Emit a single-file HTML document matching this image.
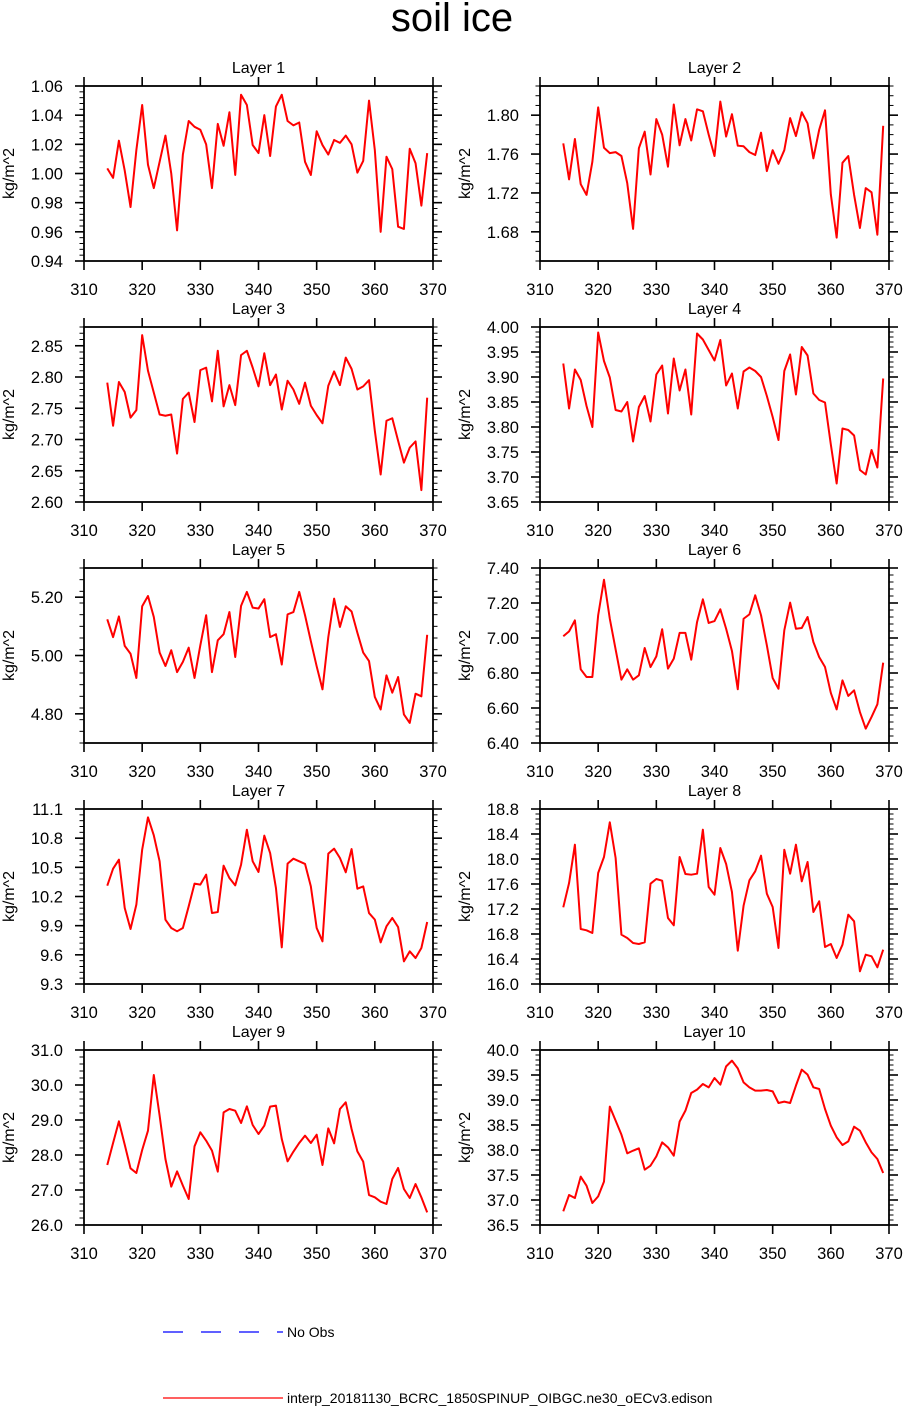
<!DOCTYPE html>
<html>
<head>
<meta charset="utf-8">
<style>
  html, body { margin: 0; padding: 0; background: #fff; }
  body { width: 904px; height: 1406px; overflow: hidden; }
  svg text { font-family: "Liberation Sans", Arial, sans-serif; fill: #000; }
</style>
</head>
<body>
<svg id="chart" width="904" height="1406" viewBox="0 0 904 1406" xmlns="http://www.w3.org/2000/svg">
  <text x="452" y="31" font-size="40" text-anchor="middle">soil ice</text>
  <g id="panels"></g>
  <g>
    <line x1="163" y1="1332" x2="283" y2="1332" stroke="#0000ff" stroke-width="1.3" stroke-dasharray="20,18"></line>
    <text x="287" y="1337" font-size="14">No Obs</text>
    <line x1="163" y1="1398" x2="283" y2="1398" stroke="#ff0000" stroke-width="1.3"></line>
    <text x="287" y="1403" font-size="14">interp_20181130_BCRC_1850SPINUP_OIBGC.ne30_oECv3.edison</text>
  </g>
</svg>
<script>
const years = [314,315,316,317,318,319,320,321,322,323,324,325,326,327,328,329,330,331,332,333,334,335,336,337,338,339,340,341,342,343,344,345,346,347,348,349,350,351,352,353,354,355,356,357,358,359,360,361,362,363,364,365,366,367,368,369];
const xTicks = [310,320,330,340,350,360,370];
const layerNames = ["Layer 1","Layer 2","Layer 3","Layer 4","Layer 5","Layer 6","Layer 7","Layer 8","Layer 9","Layer 10"];

const layer1 = [1.0035,0.997,1.0225,1.002,0.977,1.016,1.047,1.006,0.990,1.008,1.026,1.000,0.961,1.013,1.036,1.032,1.030,1.020,0.990,1.034,1.019,1.042,0.999,1.054,1.047,1.0195,1.014,1.040,1.012,1.046,1.054,1.036,1.033,1.035,1.008,0.999,1.029,1.0195,1.013,1.023,1.021,1.026,1.020,1.0006,1.0086,1.050,1.016,0.960,1.0115,1.003,0.9635,0.962,1.017,1.007,0.978,1.014];
const layer2 = [1.771,1.734,1.7755,1.729,1.718,1.752,1.808,1.7665,1.761,1.762,1.758,1.730,1.683,1.766,1.783,1.739,1.796,1.780,1.747,1.811,1.769,1.796,1.774,1.806,1.804,1.780,1.758,1.814,1.778,1.801,1.7686,1.768,1.762,1.759,1.782,1.7425,1.764,1.750,1.764,1.797,1.7785,1.803,1.7916,1.7556,1.785,1.805,1.7185,1.674,1.751,1.758,1.718,1.684,1.725,1.7206,1.677,1.789];
const layer3 = [2.791,2.722,2.792,2.776,2.735,2.747,2.867,2.810,2.775,2.740,2.738,2.740,2.6775,2.765,2.775,2.728,2.811,2.815,2.761,2.842,2.753,2.787,2.755,2.835,2.842,2.815,2.785,2.838,2.787,2.804,2.748,2.794,2.780,2.757,2.791,2.754,2.739,2.726,2.786,2.809,2.787,2.831,2.813,2.780,2.785,2.795,2.714,2.644,2.730,2.734,2.698,2.663,2.687,2.697,2.619,2.767];
const layer4 = [3.927,3.837,3.915,3.894,3.842,3.800,3.989,3.932,3.899,3.834,3.831,3.850,3.771,3.840,3.862,3.811,3.905,3.923,3.827,3.937,3.873,3.915,3.825,3.987,3.975,3.954,3.933,3.974,3.883,3.907,3.837,3.911,3.919,3.912,3.900,3.862,3.820,3.774,3.912,3.945,3.865,3.960,3.943,3.867,3.854,3.849,3.765,3.687,3.797,3.794,3.783,3.714,3.705,3.754,3.719,3.897];
const layer5 = [5.124,5.063,5.134,5.033,5.006,4.923,5.169,5.204,5.132,5.010,4.964,5.018,4.943,4.978,5.027,4.923,5.035,5.138,4.943,5.052,5.073,5.149,4.995,5.170,5.218,5.164,5.161,5.193,5.063,5.073,4.969,5.141,5.149,5.218,5.138,5.049,4.963,4.884,5.063,5.195,5.098,5.169,5.151,5.078,5.010,4.981,4.858,4.815,4.932,4.8725,4.926,4.798,4.769,4.869,4.860,5.071];
const layer6 = [7.010,7.038,7.101,6.821,6.777,6.777,7.130,7.333,7.110,6.935,6.762,6.821,6.762,6.787,6.943,6.834,6.895,7.050,6.825,6.882,7.029,7.029,6.876,7.091,7.221,7.086,7.097,7.164,7.053,6.926,6.707,7.110,7.135,7.244,7.130,6.958,6.771,6.710,7.044,7.202,7.053,7.057,7.120,6.977,6.891,6.834,6.686,6.592,6.758,6.669,6.701,6.577,6.482,6.549,6.621,6.859];
const layer7 = [10.311,10.486,10.579,10.082,9.866,10.116,10.682,11.014,10.829,10.562,9.962,9.876,9.842,9.876,10.099,10.332,10.322,10.425,10.030,10.040,10.517,10.390,10.315,10.527,10.887,10.562,10.452,10.826,10.647,10.287,9.677,10.538,10.589,10.562,10.535,10.304,9.876,9.739,10.641,10.692,10.596,10.449,10.688,10.280,10.304,10.030,9.962,9.728,9.893,9.979,9.886,9.533,9.636,9.567,9.670,9.938];
const layer8 = [17.227,17.616,18.229,16.880,16.859,16.816,17.776,18.032,18.587,18.016,16.789,16.736,16.656,16.640,16.667,17.605,17.680,17.653,17.056,16.939,18.032,17.760,17.749,17.765,18.469,17.552,17.429,18.176,17.920,17.472,16.533,17.253,17.659,17.803,18.053,17.445,17.232,16.576,18.149,17.765,18.229,17.643,17.952,17.152,17.323,16.592,16.640,16.416,16.629,17.109,17.003,16.203,16.469,16.443,16.267,16.549];
const layer9 = [27.714,28.343,28.962,28.295,27.619,27.486,28.143,28.695,30.286,29.124,27.886,27.095,27.533,27.124,26.743,28.248,28.648,28.410,28.124,27.524,29.219,29.314,29.267,28.914,29.390,28.857,28.600,28.838,29.381,29.410,28.457,27.819,28.095,28.343,28.552,28.343,28.581,27.714,28.762,28.333,29.314,29.505,28.743,28.105,27.810,26.857,26.790,26.667,26.600,27.314,27.629,27.029,26.771,27.171,26.790,26.362];
const layer10 = [36.773,37.100,37.040,37.467,37.287,36.940,37.073,37.367,38.867,38.587,38.307,37.933,37.987,38.033,37.607,37.687,37.873,38.153,38.053,37.887,38.567,38.787,39.140,39.207,39.320,39.253,39.440,39.307,39.673,39.787,39.633,39.353,39.253,39.187,39.187,39.200,39.173,38.940,38.967,38.940,39.287,39.607,39.507,39.253,39.220,38.820,38.487,38.253,38.100,38.173,38.467,38.387,38.153,37.953,37.820,37.540];

const yMins = [0.94,1.65,2.60,3.65,4.70,6.40,9.3,16.0,26.0,36.5];
const yMaxs = [1.06,1.83,2.88,4.00,5.30,7.40,11.1,18.8,31.0,40.0];
const yTickLabels = [
  ["0.94","0.96","0.98","1.00","1.02","1.04","1.06"],
  ["1.68","1.72","1.76","1.80"],
  ["2.60","2.65","2.70","2.75","2.80","2.85"],
  ["3.65","3.70","3.75","3.80","3.85","3.90","3.95","4.00"],
  ["4.80","5.00","5.20"],
  ["6.40","6.60","6.80","7.00","7.20","7.40"],
  ["9.3","9.6","9.9","10.2","10.5","10.8","11.1"],
  ["16.0","16.4","16.8","17.2","17.6","18.0","18.4","18.8"],
  ["26.0","27.0","28.0","29.0","30.0","31.0"],
  ["36.5","37.0","37.5","38.0","38.5","39.0","39.5","40.0"]
];
const yMinorSteps = [0.004,0.01,0.01,0.01,0.04,0.04,0.06,0.08,0.2,0.1];
const series = [layer1,layer2,layer3,layer4,layer5,layer6,layer7,layer8,layer9,layer10];

const NS = "http://www.w3.org/2000/svg";
const root = document.getElementById("panels");
const colX = [84, 540];
const rowY = [86, 327, 568, 809, 1050];
const PW = 349, PH = 175;
const X0 = 310, X1 = 370;

function mk(tag, attrs, parent) {
  const e = document.createElementNS(NS, tag);
  for (const k in attrs) e.setAttribute(k, attrs[k]);
  parent.appendChild(e);
  return e;
}

for (let p = 0; p < 10; p++) {
  const left = colX[p % 2], top = rowY[Math.floor(p / 2)];
  const ymin = yMins[p], ymax = yMaxs[p];
  const xs = v => left + (v - X0) / (X1 - X0) * PW;
  const ys = v => top + (ymax - v) / (ymax - ymin) * PH;

  const g = mk("g", {}, root);
  
  

  const t = mk("text", {x: left + PW / 2, y: top - 13, "font-size": 16, "text-anchor": "middle"}, g);
  t.textContent = layerNames[p];
  
  

  const yt = mk("text", {x: 0, y: 0, "font-size": 16, "text-anchor": "middle", transform: "translate(" + (left - 70) + "," + (top + PH / 2) + ") rotate(-90)"}, g);
  yt.textContent = "kg/m^2";
  
  

  const ms = yMinorSteps[p];
  const nMin = Math.round((ymax - ymin) / ms);
  for (let k = 0; k <= nMin; k++) {
    const v = ymin + k * ms;
    const y = ys(v);
    const m1 = mk("line", {x1: left - 4.5, y1: y, x2: left, y2: y, stroke: "#000", "stroke-width": 1}, g);
    
    
    const m2 = mk("line", {x1: left + PW, y1: y, x2: left + PW + 4.5, y2: y, stroke: "#000", "stroke-width": 1}, g);
    
    
  }
  yTickLabels[p].forEach(lbl => {
    const v = parseFloat(lbl);
    const y = ys(v);
    const a = mk("line", {x1: left - 9, y1: y, x2: left, y2: y, stroke: "#000", "stroke-width": 1.6}, g);
    
    
    const b = mk("line", {x1: left + PW, y1: y, x2: left + PW + 9, y2: y, stroke: "#000", "stroke-width": 1.6}, g);
    
    
    const tl = mk("text", {x: left - 21, y: y + 6, "font-size": 16.5, "text-anchor": "end"}, g);
    tl.textContent = lbl;
    
    
  });
  xTicks.forEach(v => {
    const x = xs(v);
    const a = mk("line", {x1: x, y1: top + PH, x2: x, y2: top + PH + 9, stroke: "#000", "stroke-width": 1.6}, g);
    
    
    const b = mk("line", {x1: x, y1: top - 9, x2: x, y2: top, stroke: "#000", "stroke-width": 1.6}, g);
    
    
    const tl = mk("text", {x: x, y: top + PH + 34, "font-size": 16.5, "text-anchor": "middle"}, g);
    tl.textContent = String(v);
    
    
  });
  const fr = mk("rect", {x: left, y: top, width: PW, height: PH, fill: "none", stroke: "#000", "stroke-width": 1.8}, g);
  
  
  const pts = series[p].map((v, i) => xs(years[i]).toFixed(2) + "," + ys(v).toFixed(2)).join(" ");
  const pl = mk("polyline", {points: pts, fill: "none", stroke: "#ff0000", "stroke-width": 2, "stroke-linejoin": "round"}, g);
  
  
}
</script>
</body>
</html>
